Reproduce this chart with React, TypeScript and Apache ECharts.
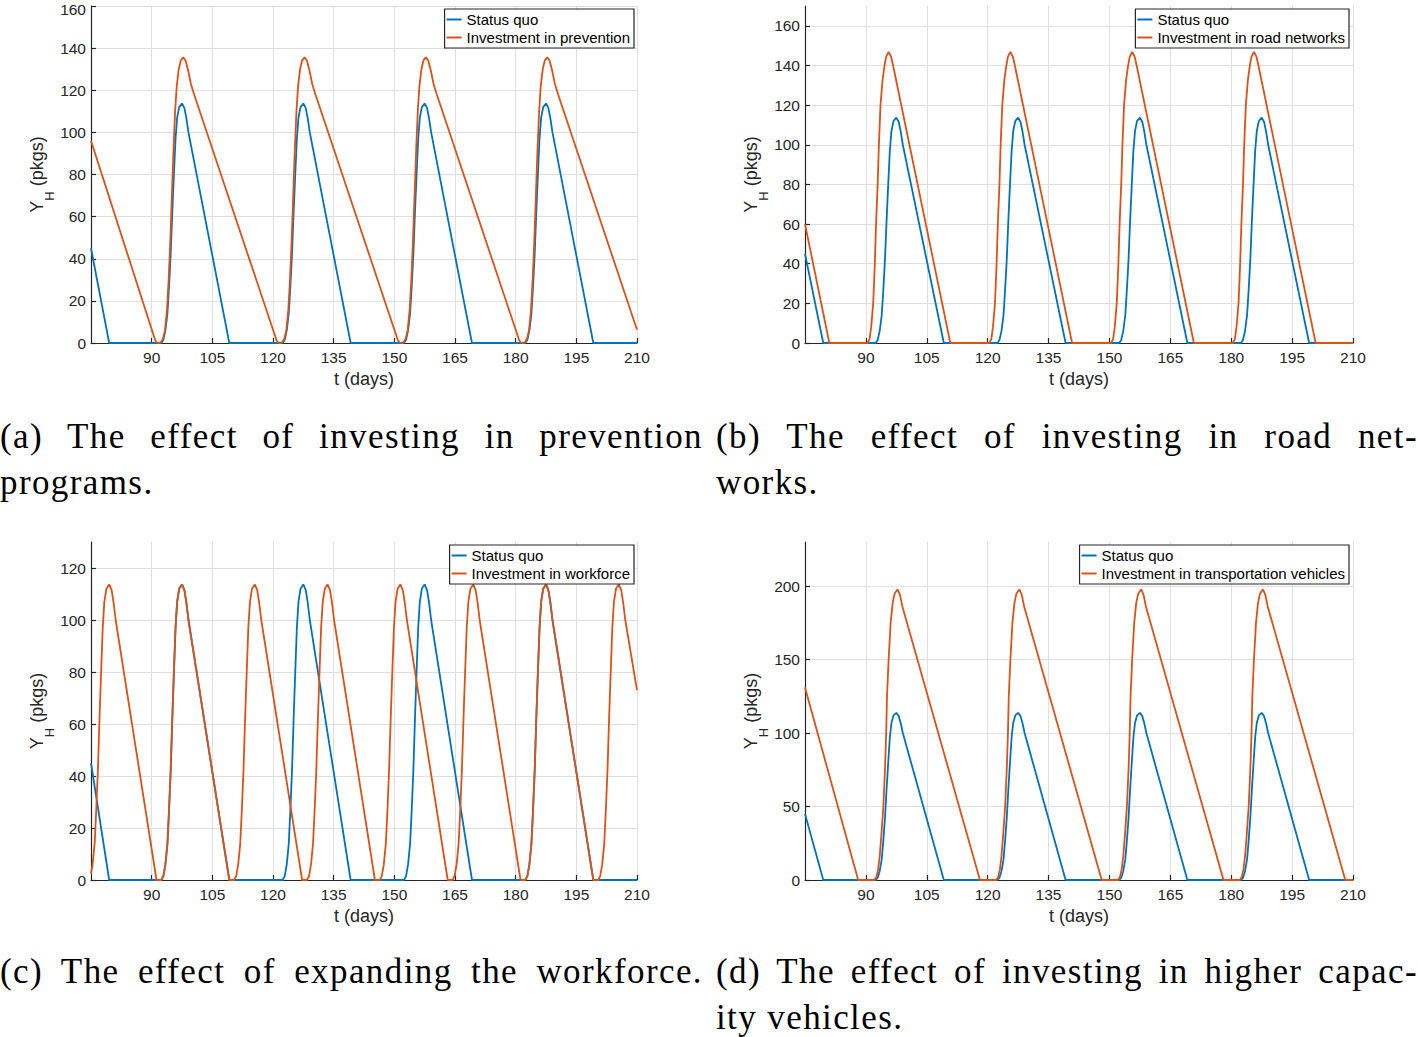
import React, { useEffect, useRef } from 'react';
import * as echarts from 'echarts';

// ---------- data ----------
const T_MIN = 75;
const T_MAX = 210;
const T_STEP = 15;
const Y_MAX = [160, 170, 130, 230];
const Y_STEP = [20, 20, 20, 50];

const STATUS_NAME = 'Status quo';
const SCENARIO_NAMES = [
  'Investment in prevention',
  'Investment in road networks',
  'Investment in workforce',
  'Investment in transportation vehicles',
];

// status quo, identical in all four panels: [t, Y_H]
const STATUS_QUO: number[][] = [
  [75, 45], [79.5, 0],
  [92.4, 0], [92.9, 1.5], [93.4, 6], [93.9, 14], [94.3, 27], [94.7, 42], [95.1, 62], [95.5, 80], [95.9, 97], [96.3, 107], [96.8, 112], [97.5, 113.7], [98.1, 111.5], [98.6, 106.5], [99.1, 100], [109.2, 0],
  [122.4, 0], [122.9, 1.5], [123.4, 6], [123.9, 14], [124.3, 27], [124.7, 42], [125.1, 62], [125.5, 80], [125.9, 97], [126.3, 107], [126.8, 112], [127.5, 113.7], [128.1, 111.5], [128.6, 106.5], [129.1, 100], [139.2, 0],
  [152.4, 0], [152.9, 1.5], [153.4, 6], [153.9, 14], [154.3, 27], [154.7, 42], [155.1, 62], [155.5, 80], [155.9, 97], [156.3, 107], [156.8, 112], [157.5, 113.7], [158.1, 111.5], [158.6, 106.5], [159.1, 100], [169.2, 0],
  [182.4, 0], [182.9, 1.5], [183.4, 6], [183.9, 14], [184.3, 27], [184.7, 42], [185.1, 62], [185.5, 80], [185.9, 97], [186.3, 107], [186.8, 112], [187.5, 113.7], [188.1, 111.5], [188.6, 106.5], [189.1, 100], [199.2, 0],
  [210, 0],
];

// (a) investment in prevention
const PREVENTION: number[][] = [
  [75, 96],
  [90.9, 1.2], [91.3, 0.2], [91.8, 0], [92.3, 0.4], [92.8, 2], [93.3, 6], [93.8, 16], [94.2, 30], [94.6, 48], [95.0, 70], [95.4, 92], [95.8, 110], [96.2, 122], [96.7, 130], [97.2, 134.2], [97.8, 135.6], [98.4, 134], [99.0, 129.5], [99.7, 123], [100.5, 118],
  [120.9, 1.2], [121.3, 0.2], [121.8, 0], [122.3, 0.4], [122.8, 2], [123.3, 6], [123.8, 16], [124.2, 30], [124.6, 48], [125.0, 70], [125.4, 92], [125.8, 110], [126.2, 122], [126.7, 130], [127.2, 134.2], [127.8, 135.6], [128.4, 134], [129.0, 129.5], [129.7, 123], [130.5, 118],
  [150.9, 1.2], [151.3, 0.2], [151.8, 0], [152.3, 0.4], [152.8, 2], [153.3, 6], [153.8, 16], [154.2, 30], [154.6, 48], [155.0, 70], [155.4, 92], [155.8, 110], [156.2, 122], [156.7, 130], [157.2, 134.2], [157.8, 135.6], [158.4, 134], [159.0, 129.5], [159.7, 123], [160.5, 118],
  [180.9, 1.2], [181.3, 0.2], [181.8, 0], [182.3, 0.4], [182.8, 2], [183.3, 6], [183.8, 16], [184.2, 30], [184.6, 48], [185.0, 70], [185.4, 92], [185.8, 110], [186.2, 122], [186.7, 130], [187.2, 134.2], [187.8, 135.6], [188.4, 134], [189.0, 129.5], [189.7, 123], [190.5, 118],
  [210, 6.3],
];

// (b) investment in road networks
const ROAD: number[][] = [
  [75, 60], [81.0, 0],
  [90.4, 0], [90.9, 2], [91.3, 8], [91.8, 20], [92.2, 40], [92.5, 60], [92.9, 80], [93.2, 100], [93.6, 120], [94.1, 132.6], [94.6, 140], [95.0, 144.5], [95.6, 146.8], [96.2, 144.5], [96.7, 140], [110.8, 0],
  [120.4, 0], [120.9, 2], [121.3, 8], [121.8, 20], [122.2, 40], [122.5, 60], [122.9, 80], [123.2, 100], [123.6, 120], [124.1, 132.6], [124.6, 140], [125.0, 144.5], [125.6, 146.8], [126.2, 144.5], [126.7, 140], [140.8, 0],
  [150.4, 0], [150.9, 2], [151.3, 8], [151.8, 20], [152.2, 40], [152.5, 60], [152.9, 80], [153.2, 100], [153.6, 120], [154.1, 132.6], [154.6, 140], [155.0, 144.5], [155.6, 146.8], [156.2, 144.5], [156.7, 140], [170.8, 0],
  [180.4, 0], [180.9, 2], [181.3, 8], [181.8, 20], [182.2, 40], [182.5, 60], [182.9, 80], [183.2, 100], [183.6, 120], [184.1, 132.6], [184.6, 140], [185.0, 144.5], [185.6, 146.8], [186.2, 144.5], [186.7, 140], [200.8, 0],
  [210, 0],
];

// (c) investment in workforce (same pulse shape as status quo, every 18 days)
const WORKFORCE: number[][] = [
  [75, 2.4], [75.4, 6], [75.9, 14], [76.3, 27], [76.7, 42], [77.1, 62], [77.5, 80], [77.9, 97], [78.3, 107], [78.8, 112], [79.5, 113.7], [80.1, 111.5], [80.6, 106.5], [81.1, 100], [91.2, 0],
  [92.4, 0], [92.9, 1.5], [93.4, 6], [93.9, 14], [94.3, 27], [94.7, 42], [95.1, 62], [95.5, 80], [95.9, 97], [96.3, 107], [96.8, 112], [97.5, 113.7], [98.1, 111.5], [98.6, 106.5], [99.1, 100], [109.2, 0],
  [110.4, 0], [110.9, 1.5], [111.4, 6], [111.9, 14], [112.3, 27], [112.7, 42], [113.1, 62], [113.5, 80], [113.9, 97], [114.3, 107], [114.8, 112], [115.5, 113.7], [116.1, 111.5], [116.6, 106.5], [117.1, 100], [127.2, 0],
  [128.4, 0], [128.9, 1.5], [129.4, 6], [129.9, 14], [130.3, 27], [130.7, 42], [131.1, 62], [131.5, 80], [131.9, 97], [132.3, 107], [132.8, 112], [133.5, 113.7], [134.1, 111.5], [134.6, 106.5], [135.1, 100], [145.2, 0],
  [146.4, 0], [146.9, 1.5], [147.4, 6], [147.9, 14], [148.3, 27], [148.7, 42], [149.1, 62], [149.5, 80], [149.9, 97], [150.3, 107], [150.8, 112], [151.5, 113.7], [152.1, 111.5], [152.6, 106.5], [153.1, 100], [163.2, 0],
  [164.4, 0], [164.9, 1.5], [165.4, 6], [165.9, 14], [166.3, 27], [166.7, 42], [167.1, 62], [167.5, 80], [167.9, 97], [168.3, 107], [168.8, 112], [169.5, 113.7], [170.1, 111.5], [170.6, 106.5], [171.1, 100], [181.2, 0],
  [182.4, 0], [182.9, 1.5], [183.4, 6], [183.9, 14], [184.3, 27], [184.7, 42], [185.1, 62], [185.5, 80], [185.9, 97], [186.3, 107], [186.8, 112], [187.5, 113.7], [188.1, 111.5], [188.6, 106.5], [189.1, 100], [199.2, 0],
  [200.4, 0], [200.9, 1.5], [201.4, 6], [201.9, 14], [202.3, 27], [202.7, 42], [203.1, 62], [203.5, 80], [203.9, 97], [204.3, 107], [204.8, 112], [205.5, 113.7], [206.1, 111.5], [206.6, 106.5], [207.1, 100], [210, 73],
];

// (d) investment in transportation vehicles
const VEHICLES: number[][] = [
  [75, 131], [88.1, 0],
  [92.1, 0], [92.6, 2], [93.0, 7], [93.4, 16], [93.8, 30], [94.3, 50], [94.7, 75], [95.0, 100], [95.2, 125], [95.6, 150], [96.1, 175], [96.6, 188.6], [97.1, 195], [97.8, 197.7], [98.4, 194], [99.0, 186], [118.1, 0],
  [122.1, 0], [122.6, 2], [123.0, 7], [123.4, 16], [123.8, 30], [124.3, 50], [124.7, 75], [125.0, 100], [125.2, 125], [125.6, 150], [126.1, 175], [126.6, 188.6], [127.1, 195], [127.8, 197.7], [128.4, 194], [129.0, 186], [148.1, 0],
  [152.1, 0], [152.6, 2], [153.0, 7], [153.4, 16], [153.8, 30], [154.3, 50], [154.7, 75], [155.0, 100], [155.2, 125], [155.6, 150], [156.1, 175], [156.6, 188.6], [157.1, 195], [157.8, 197.7], [158.4, 194], [159.0, 186], [178.1, 0],
  [182.1, 0], [182.6, 2], [183.0, 7], [183.4, 16], [183.8, 30], [184.3, 50], [184.7, 75], [185.0, 100], [185.2, 125], [185.6, 150], [186.1, 175], [186.6, 188.6], [187.1, 195], [187.8, 197.7], [188.4, 194], [189.0, 186], [208.1, 0],
  [210, 0],
];

const SCENARIOS = [PREVENTION, ROAD, WORKFORCE, VEHICLES];

const CAPTIONS: string[][] = [
  ['(a) The effect of investing in prevention', 'programs.'],
  ['(b) The effect of investing in road net-', 'works.'],
  ['(c) The effect of expanding the workforce.'],
  ['(d) The effect of investing in higher capac-', 'ity vehicles.'],
];

// ---------- styling / layout ----------
const W = 1418;
const H = 1037;
const BLUE = '#0072BD';
const ORANGE = '#D95319';
const INK = '#262626';
const GRIDC = '#dfdfdf';
const SANS = '"Liberation Sans", Arial, Helvetica, sans-serif';
const SERIF = '"Liberation Serif", "Times New Roman", serif';

const GRIDS = [
  { left: 91, top: 6, width: 546, height: 337 },
  { left: 805, top: 6, width: 548, height: 337 },
  { left: 91, top: 542, width: 546, height: 338 },
  { left: 805, top: 542, width: 548, height: 338 },
];
const LEGEND_POS = [
  { right: 784, top: 9 },
  { right: 69, top: 9 },
  { right: 784, top: 545 },
  { right: 69, top: 545 },
];
const CAPTION_POS = [
  { left: 0, top: 414, width: 703 },
  { left: 716, top: 414, width: 702 },
  { left: 0, top: 949, width: 703 },
  { left: 716, top: 949, width: 702 },
];

function buildOption() {
  const grid = GRIDS.map((g) => ({ ...g, containLabel: false, outerBoundsMode: 'none' }));
  const xAxis = GRIDS.map((_, i) => ({
    type: 'value',
    gridIndex: i,
    min: T_MIN,
    max: T_MAX,
    interval: T_STEP,
    name: 't (days)',
    nameLocation: 'middle',
    nameGap: 27,
    nameTextStyle: { fontSize: 18, color: INK, fontFamily: SANS },
    axisLine: { show: true, onZero: false, lineStyle: { color: INK, width: 1.2 } },
    axisTick: { show: true, inside: true, length: 5, lineStyle: { color: INK, width: 1.2 } },
    axisLabel: { showMinLabel: false, margin: 6, fontSize: 15.5, color: INK, fontFamily: SANS },
    splitLine: { show: true, lineStyle: { color: GRIDC, width: 1 } },
  }));
  const yAxis = GRIDS.map((_, i) => ({
    type: 'value',
    gridIndex: i,
    min: 0,
    max: Y_MAX[i],
    interval: Y_STEP[i],
    name: '{m|Y}{s|H}{m| (pkgs)}',
    nameLocation: 'middle',
    nameRotate: 90,
    nameGap: 36,
    nameTextStyle: {
      fontSize: 18,
      color: INK,
      fontFamily: SANS,
      rich: {
        m: { fontSize: 18, lineHeight: 20, color: INK, fontFamily: SANS, verticalAlign: 'middle' },
        s: { fontSize: 13, lineHeight: 14, color: INK, fontFamily: SANS, verticalAlign: 'middle', padding: [26, 0, 0, 0] },
      },
    },
    axisLine: { show: true, onZero: false, lineStyle: { color: INK, width: 1.2 } },
    axisTick: { show: true, inside: true, length: 5, lineStyle: { color: INK, width: 1.2 } },
    axisLabel: {
      margin: 5,
      fontSize: 15.5,
      color: INK,
      fontFamily: SANS,
      showMaxLabel: i === 0,
      formatter: (v: number) => (v === Y_MAX[i] ? `{top|${v}}` : `${v}`),
      rich: {
        top: { fontSize: 15.5, lineHeight: 14, color: INK, fontFamily: SANS, padding: [6, 0, 0, 0] },
      },
    },
    splitLine: { show: true, showMaxLine: i === 0, lineStyle: { color: GRIDC, width: 1 } },
  }));
  const series: any[] = [];
  GRIDS.forEach((_, i) => {
    series.push({
      type: 'line',
      name: STATUS_NAME,
      xAxisIndex: i,
      yAxisIndex: i,
      data: STATUS_QUO,
      symbol: 'none',
      showSymbol: false,
      clip: false,
      color: BLUE,
      lineStyle: { color: BLUE, width: 1.8 },
    });
    series.push({
      type: 'line',
      name: SCENARIO_NAMES[i],
      xAxisIndex: i,
      yAxisIndex: i,
      data: SCENARIOS[i],
      symbol: 'none',
      showSymbol: false,
      clip: false,
      color: ORANGE,
      lineStyle: { color: ORANGE, width: 1.8 },
    });
  });
  const legend = GRIDS.map((_, i) => ({
    data: [STATUS_NAME, SCENARIO_NAMES[i]],
    orient: 'vertical',
    right: LEGEND_POS[i].right,
    top: LEGEND_POS[i].top,
    padding: [2, 4, 2, 2],
    itemGap: 1,
    itemWidth: 15,
    itemHeight: 2,
    icon: 'rect',
    selectedMode: false,
    backgroundColor: '#ffffff',
    borderColor: INK,
    borderWidth: 1.2,
    textStyle: { fontSize: 15, lineHeight: 17, color: '#000', fontFamily: SANS },
  }));
  return {
    animation: false,
    backgroundColor: '#ffffff',
    grid,
    xAxis,
    yAxis,
    legend,
    series,
  };
}

export default function App() {
  const ref = useRef<HTMLDivElement | null>(null);
  useEffect(() => {
    if (!ref.current) return;
    const chart = echarts.init(ref.current, undefined, { renderer: 'svg', width: W, height: H });
    chart.setOption(buildOption() as any);
    return () => chart.dispose();
  }, []);
  return (
    <div style={{ position: 'absolute', left: 0, top: 0, width: W, height: H, background: '#fff', overflow: 'hidden' }}>
      <div ref={ref} style={{ position: 'absolute', left: 0, top: 0, width: W, height: H }} />
      {CAPTIONS.map((lines, i) => (
        <div
          key={i}
          style={{
            position: 'absolute',
            left: CAPTION_POS[i].left,
            top: CAPTION_POS[i].top,
            width: CAPTION_POS[i].width,
            fontFamily: SERIF,
            fontSize: 35,
            lineHeight: '46px',
            letterSpacing: '1.4px',
            color: '#000',
          }}
        >
          {lines.map((ln, j) => (
            <div
              key={j}
              style={{
                textAlign: j === 0 ? 'justify' : 'left',
                textAlignLast: j === 0 ? 'justify' : 'left',
                whiteSpace: j === 0 ? 'normal' : 'nowrap',
              } as any}
            >
              {ln}
            </div>
          ))}
        </div>
      ))}
    </div>
  );
}
